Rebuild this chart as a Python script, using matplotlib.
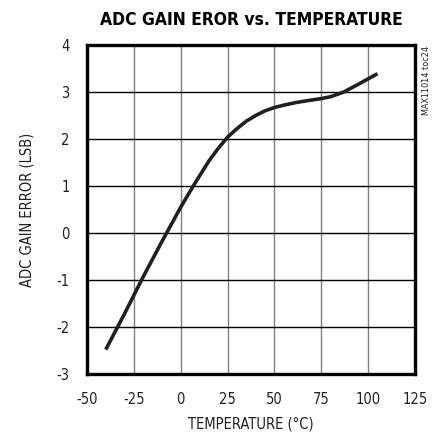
import matplotlib
matplotlib.use("Agg")
import matplotlib.pyplot as plt

temperature = [-40, -30, -20, -10, 0, 7, 15, 20, 25, 30, 35, 40, 45, 50, 55, 62, 70, 75, 80, 87, 95, 100, 105]
gain_error = [-2.48, -1.72, -0.93, -0.18, 0.55, 1.02, 1.53, 1.80, 2.04, 2.22, 2.38, 2.50, 2.60, 2.67, 2.72, 2.78, 2.83, 2.86, 2.90, 3.00, 3.17, 3.28, 3.39]
x_ticks = [-50, -25, 0, 25, 50, 75, 100, 125]
y_ticks = [-3, -2, -1, 0, 1, 2, 3, 4]

plt.rcParams['font.family'] = ['DejaVu Sans']
plt.rcParams['font.stretch'] = 'condensed'

fig = plt.figure(figsize=(4.44, 4.38), dpi=100)
ax = fig.add_axes([87/444, 1-374/438, (415-87)/444, (374-45)/438])

ax.plot(temperature, gain_error, color='#231f20', lw=2.6, solid_capstyle='butt',
        solid_joinstyle='round', zorder=3)
ax.set_xlim(-50, 125)
ax.set_ylim(-3, 4)
ax.set_xticks(x_ticks)
ax.set_yticks(y_ticks)
ax.set_xticklabels([str(v) for v in x_ticks])
ax.set_yticklabels([str(v) for v in y_ticks])
ax.tick_params(length=0, labelsize=10.5, colors='#231f20')
ax.tick_params(axis='x', pad=13)
ax.tick_params(axis='y', pad=12.5)
for xv in x_ticks[1:-1]:
    ax.axvline(xv, color='#808080', lw=1.0, zorder=1)
for yv in y_ticks[1:-1]:
    ax.axhline(yv, color='#000000', lw=1.0, zorder=1)
for s in ax.spines.values():
    s.set_linewidth(2.4)
    s.set_color('#000000')

ax.set_xlabel('TEMPERATURE (°C)', fontsize=10.5, labelpad=7, color='#231f20')
ax.set_ylabel('ADC GAIN ERROR (LSB)', fontsize=10.5, labelpad=16, color='#231f20')
fig.text(251/444, 1-20/438, 'ADC GAIN EROR vs. TEMPERATURE', ha='center', va='center',
         fontsize=12.5, fontweight='bold', color='#000000')
fig.text(426/444, 1-46/438, 'MAX11014 toc24', rotation=90, ha='center', va='top',
         fontsize=6.5, color='#231f20')

fig.savefig('out.png', dpi=100)
